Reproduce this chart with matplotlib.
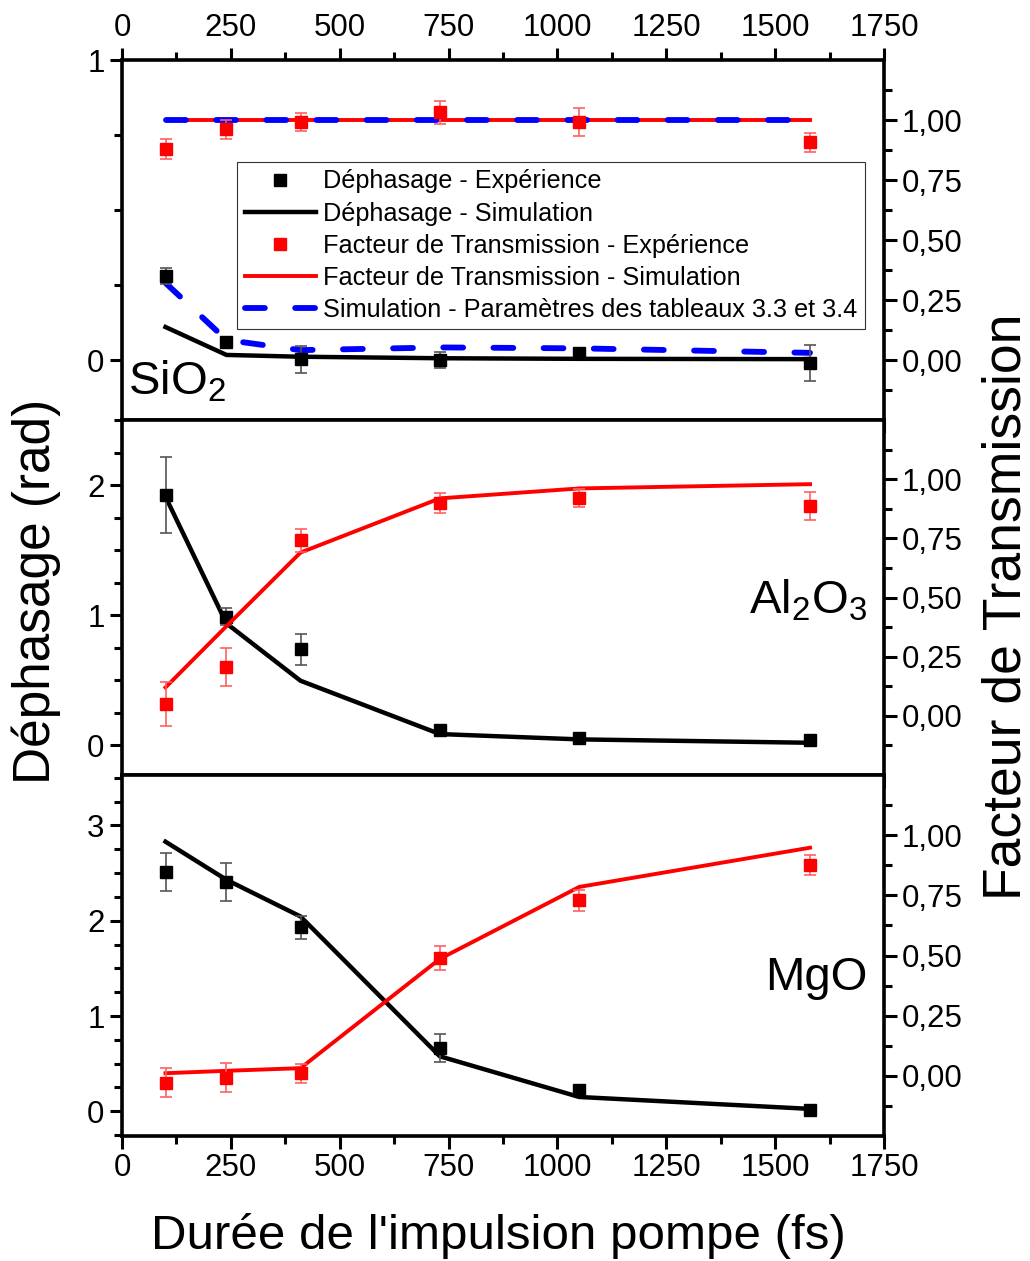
import numpy as np
import matplotlib.pyplot as plt
from matplotlib.ticker import FixedLocator, FuncFormatter, MultipleLocator

plt.rcParams['font.family'] = ['Liberation Sans', 'DejaVu Sans']
plt.rcParams['mathtext.fontset'] = 'custom'
plt.rcParams['mathtext.rm'] = 'Liberation Sans'

# pulse durations (fs)
durations = [100, 240, 410, 730, 1050, 1580]

# SiO2
sio2_phase_exp = [0.28, 0.061, 0.003, 0.0, 0.024, -0.009]
sio2_phase_err = [0.027, 0.01, 0.045, 0.028, 0.01, 0.06]
sio2_phase_sim = [0.11, 0.017, 0.011, 0.006, 0.004, 0.003]
sio2_trans_exp = [0.879, 0.961, 0.993, 1.032, 0.993, 0.908]
sio2_trans_err = [0.04, 0.04, 0.038, 0.049, 0.059, 0.04]
sio2_trans_sim = [1.0, 1.0, 1.0, 1.0, 1.0, 1.0]
sio2_phase_tab = [0.257, 0.067, 0.033, 0.042, 0.039, 0.024]
sio2_trans_tab = [1.0, 1.0, 1.0, 1.0, 1.0, 1.0]

# Al2O3
al2o3_phase_exp = [1.923, 0.987, 0.736, 0.115, 0.051, 0.038]
al2o3_phase_err = [0.29, 0.067, 0.12, 0.02, 0.015, 0.015]
al2o3_phase_sim = [1.91, 0.936, 0.495, 0.085, 0.044, 0.018]
al2o3_trans_exp = [0.05, 0.205, 0.741, 0.898, 0.919, 0.887]
al2o3_trans_err = [0.091, 0.08, 0.05, 0.042, 0.038, 0.061]
al2o3_trans_sim = [0.12, 0.379, 0.69, 0.919, 0.961, 0.979]

# MgO
mgo_phase_exp = [2.51, 2.41, 1.93, 0.665, 0.22, 0.01]
mgo_phase_err = [0.2, 0.2, 0.12, 0.15, 0.03, 0.02]
mgo_phase_sim = [2.83, 2.43, 2.045, 0.577, 0.15, 0.025]
mgo_trans_exp = [-0.028, -0.007, 0.011, 0.489, 0.729, 0.877]
mgo_trans_err = [0.06, 0.06, 0.04, 0.05, 0.042, 0.042]
mgo_trans_sim = [0.011, 0.021, 0.032, 0.486, 0.785, 0.948]

x_ticks = [0, 250, 500, 750, 1000, 1250, 1500, 1750]
right_ticks = [0.0, 0.25, 0.5, 0.75, 1.0]

RED = '#ff0000'
BLUE = '#0000ff'
TICK_FS = 22.5
BLUE_DASH = dict(color=BLUE, lw=4.2, dashes=(3.4, 5.2), dash_capstyle='round')


def style_axes(ax, ylim, ymajor, top_labels=False, bottom_labels=False):
    ax.set_xlim(0, 1750)
    ax.set_ylim(*ylim)
    ax.xaxis.set_major_locator(FixedLocator(x_ticks))
    ax.xaxis.set_minor_locator(MultipleLocator(125))
    ax.yaxis.set_major_locator(FixedLocator(ymajor))
    ax.yaxis.set_minor_locator(MultipleLocator(0.25))
    ax.tick_params(which='both', direction='out', width=2.2, labelsize=TICK_FS,
                   top=top_labels, labeltop=top_labels,
                   bottom=True, labelbottom=bottom_labels)
    ax.tick_params(which='major', length=9)
    ax.tick_params(which='minor', length=6)
    for sp in ax.spines.values():
        sp.set_linewidth(2.6)


def style_right(ax2):
    ax2.set_ylim(-0.25, 1.25)
    ax2.yaxis.set_major_locator(FixedLocator(right_ticks))
    ax2.yaxis.set_minor_locator(FixedLocator(np.arange(-0.125, 1.2, 0.25)))
    ax2.yaxis.set_major_formatter(FuncFormatter(lambda v, p: ('%.2f' % v).replace('.', ',')))
    ax2.tick_params(which='both', direction='out', width=2.2, labelsize=TICK_FS)
    ax2.tick_params(which='major', length=9)
    ax2.tick_params(which='minor', length=6)


def draw_panel(ax, phase_exp, phase_err, phase_sim, trans_exp, trans_err, trans_sim):
    ax.plot(durations, phase_sim, color='black', lw=3.2, zorder=2)
    ax.errorbar(durations, phase_exp, yerr=phase_err, fmt='s', color='black', ms=9,
                ecolor='#555555', elinewidth=1.2, capsize=4, capthick=1.2, zorder=3)
    ax2 = ax.twinx()
    ax2.plot(durations, trans_sim, color=RED, lw=2.8, zorder=2)
    ax2.errorbar(durations, trans_exp, yerr=trans_err, fmt='s', color=RED, ms=9,
                 ecolor='#ff6060', elinewidth=1.2, capsize=4, capthick=1.2, zorder=3)
    style_right(ax2)
    return ax2


fig = plt.figure(figsize=(10.30, 12.61), dpi=100)
left, width = 0.1184, 0.7399
ax1 = fig.add_axes([left, 0.6669, width, 0.2855])
ax2 = fig.add_axes([left, 0.3854, width, 0.2815])
ax3 = fig.add_axes([left, 0.0991, width, 0.2863])

# SiO2
r1 = draw_panel(ax1, sio2_phase_exp, sio2_phase_err, sio2_phase_sim,
                sio2_trans_exp, sio2_trans_err, sio2_trans_sim)
ax1.plot(durations, sio2_phase_tab, zorder=2.5, **BLUE_DASH)
r1.plot(durations, sio2_trans_tab, zorder=2.5, **BLUE_DASH)
style_axes(ax1, (-0.2, 1.0), [0, 1], top_labels=True)

# Al2O3
draw_panel(ax2, al2o3_phase_exp, al2o3_phase_err, al2o3_phase_sim,
           al2o3_trans_exp, al2o3_trans_err, al2o3_trans_sim)
style_axes(ax2, (-0.23, 2.5), [0, 1, 2])

# MgO
draw_panel(ax3, mgo_phase_exp, mgo_phase_err, mgo_phase_sim,
           mgo_trans_exp, mgo_trans_err, mgo_trans_sim)
style_axes(ax3, (-0.26, 3.53), [0, 1, 2, 3], bottom_labels=True)

# material labels
ax1.text(0.008, 0.07, r'SiO$_\mathregular{2}$', transform=ax1.transAxes,
         fontsize=34, va='baseline', ha='left')
ax2.text(0.978, 0.456, r'Al$_\mathregular{2}$O$_\mathregular{3}$', transform=ax2.transAxes,
         fontsize=34, va='baseline', ha='right')
ax3.text(0.978, 0.404, 'MgO', transform=ax3.transAxes,
         fontsize=34, va='baseline', ha='right')

# legend
handles = [
    plt.Line2D([], [], color='black', marker='s', ls='none', ms=9),
    plt.Line2D([], [], color='black', lw=3.2),
    plt.Line2D([], [], color=RED, marker='s', ls='none', ms=9),
    plt.Line2D([], [], color=RED, lw=2.8),
    plt.Line2D([], [], **BLUE_DASH),
]
labels = ['Déphasage - Expérience', 'Déphasage - Simulation',
          'Facteur de Transmission - Expérience', 'Facteur de Transmission - Simulation',
          'Simulation - Paramètres des tableaux 3.3 et 3.4']
leg = r1.legend(handles, labels, loc='upper right', bbox_to_anchor=(0.975, 0.717),
                fontsize=18.2, frameon=True, fancybox=False, framealpha=1,
                edgecolor='#333333', handlelength=2.8, handletextpad=0.3,
                labelspacing=0.32, borderpad=0.3, borderaxespad=0)
leg.get_frame().set_linewidth(0.8)
leg.set_zorder(10)

fig.text(0.035, 0.531, 'Déphasage (rad)', rotation=90, fontsize=37,
         ha='center', va='center')
fig.text(0.977, 0.519, 'Facteur de Transmission', rotation=90, fontsize=38.5,
         ha='center', va='center')
fig.text(0.484, 0.02, "Durée de l'impulsion pompe (fs)", fontsize=35.5,
         ha='center', va='center')

fig.savefig('out.png', dpi=100)
